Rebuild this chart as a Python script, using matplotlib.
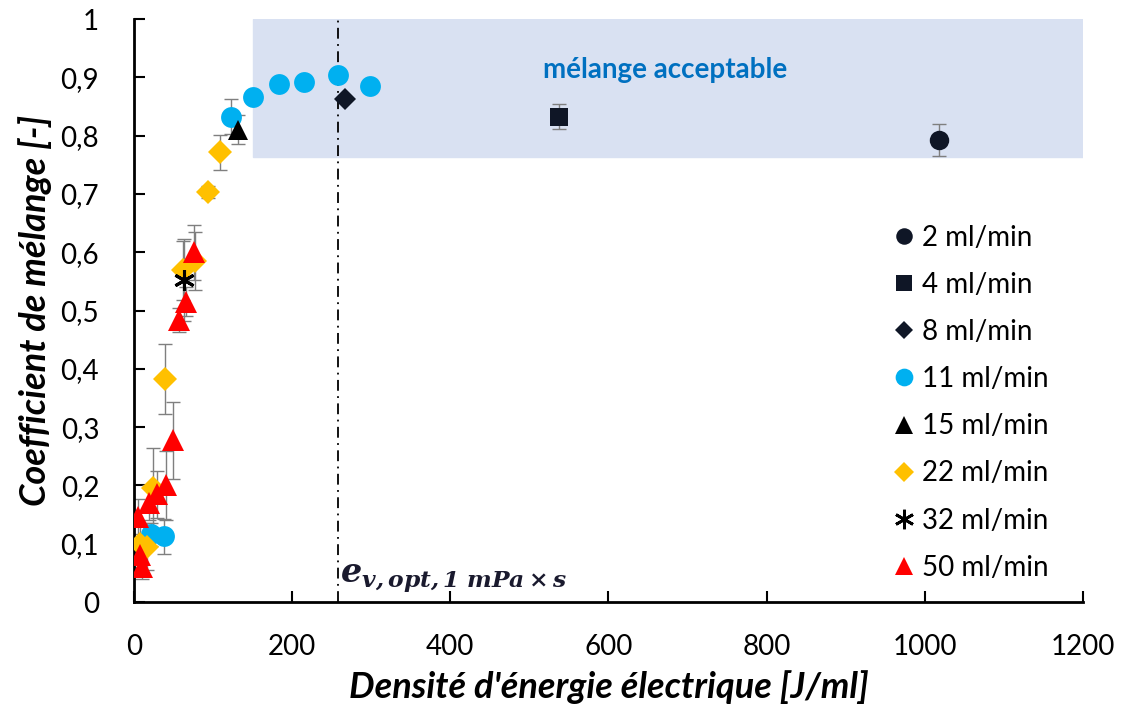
import matplotlib
matplotlib.use('Agg')
import matplotlib.pyplot as plt
from matplotlib.lines import Line2D
from matplotlib.ticker import FuncFormatter

plt.rcParams['font.family'] = ['Lato', 'DejaVu Sans']
plt.rcParams['mathtext.fontset'] = 'dejavuserif'

# data
x_2 = [1018]
y_2 = [0.793]
e_2 = [0.027]

x_4 = [538]
y_4 = [0.833]
e_4 = [0.022]

x_8 = [267]
y_8 = [0.863]
e_8 = [0.0]

x_11 = [22, 38, 123, 151, 184, 215, 258, 298]
y_11 = [0.116, 0.113, 0.833, 0.867, 0.889, 0.893, 0.905, 0.885]
e_11 = [0.02, 0.03, 0.03, 0, 0, 0, 0, 0]

x_15 = [132]
y_15 = [0.81]
e_15 = [0.025]

x_22 = [8, 16, 24, 39, 62, 77, 93, 109]
y_22 = [0.10, 0.095, 0.195, 0.383, 0.569, 0.585, 0.703, 0.772]
e_22 = [0.03, 0.04, 0.07, 0.06, 0.05, 0.05, 0.01, 0.03]

x_32 = [63]
y_32 = [0.553]
e_32 = [0.07]

x_50 = [5, 8, 10, 19, 29, 41, 50, 57, 66, 76]
y_50 = [0.146, 0.08, 0.06, 0.17, 0.185, 0.20, 0.278, 0.484, 0.515, 0.6]
e_50 = [0.03, 0.02, 0.02, 0.03, 0.04, 0.06, 0.066, 0.02, 0.025, 0.047]

series = [
    ('2 ml/min', x_2, y_2, e_2, 'o', '#0f1626', 14),
    ('4 ml/min', x_4, y_4, e_4, 's', '#0f1626', 13),
    ('8 ml/min', x_8, y_8, e_8, 'D', '#0f1626', 11),
    ('11 ml/min', x_11, y_11, e_11, 'o', '#00b0f0', 15),
    ('15 ml/min', x_15, y_15, e_15, '^', '#000000', 15),
    ('22 ml/min', x_22, y_22, e_22, 'D', '#ffc000', 12),
    ('32 ml/min', x_32, y_32, e_32, (6, 2, 0), '#000000', 15),
    ('50 ml/min', x_50, y_50, e_50, '^', '#ff0000', 16),
]

e_opt = 258

fig, ax = plt.subplots(figsize=(11.21, 7.1), dpi=100)
fig.subplots_adjust(left=0.1195, right=0.966, bottom=0.152, top=0.973)

# acceptable mixing zone
ax.axhspan(0.764, 1.0, xmin=150 / 1200, xmax=1.0, color='#d9e1f2', zorder=0)
ax.text(672, 0.912, 'mélange acceptable', color='#0070c0', fontsize=20,
        fontweight='bold', ha='center', va='center')

ax.axvline(e_opt, color='black', linestyle=(0, (6, 3, 1, 3)), linewidth=1.3, zorder=1)
ax.text(e_opt + 2, 0.012, r'$\mathbfit{e}_{\mathbfit{v,opt,1\ mPa\times s}}$',
        fontsize=24, ha='left', va='bottom', color='#1a1a2e')

handles = []
for label, xs, ys, es, mk, col, ms in series:
    ax.errorbar(xs, ys, yerr=es, fmt='none', ecolor='#7f7f7f', elinewidth=1,
                capsize=5, capthick=1, zorder=2)
    if mk == (6, 2, 0):
        ax.plot(xs, ys, linestyle='none', marker=mk, markersize=ms,
                markeredgecolor=col, markeredgewidth=2.2, zorder=3)
        h = Line2D([], [], linestyle='none', marker=mk, markersize=14,
                   markeredgecolor=col, markeredgewidth=2, label=label)
    else:
        ax.plot(xs, ys, linestyle='none', marker=mk, markersize=ms,
                color=col, markeredgewidth=0, zorder=3)
        h = Line2D([], [], linestyle='none', marker=mk, markersize=ms * 0.85,
                   color=col, markeredgewidth=0, label=label)
    handles.append(h)

ax.set_xlim(0, 1200)
ax.set_ylim(0, 1)
ax.set_xticks(range(0, 1201, 200))
ax.set_yticks([i / 10 for i in range(11)])
ax.yaxis.set_major_formatter(FuncFormatter(
    lambda v, p: '0' if v == 0 else ('1' if v == 1 else f'{v:.1f}'.replace('.', ','))))
ax.tick_params(direction='in', length=8, width=1.5, labelsize=20)
ax.tick_params(axis='x', pad=23)
ax.tick_params(axis='y', pad=25)

for side in ['top', 'right']:
    ax.spines[side].set_visible(False)
for side in ['left', 'bottom']:
    ax.spines[side].set_linewidth(2)

ax.set_xlabel("Densité d'énergie électrique [J/ml]", fontsize=26,
              fontweight='bold', fontstyle='italic', labelpad=7)
ax.set_ylabel('Coefficient de mélange [-]', fontsize=26,
              fontweight='bold', fontstyle='italic', labelpad=6)

ax.legend(handles=handles, loc='upper left', bbox_to_anchor=(0.77, 0.69),
          frameon=False, fontsize=20, labelspacing=0.76, handletextpad=0.15,
          handlelength=1.0)

fig.savefig('out.png', dpi=100)
